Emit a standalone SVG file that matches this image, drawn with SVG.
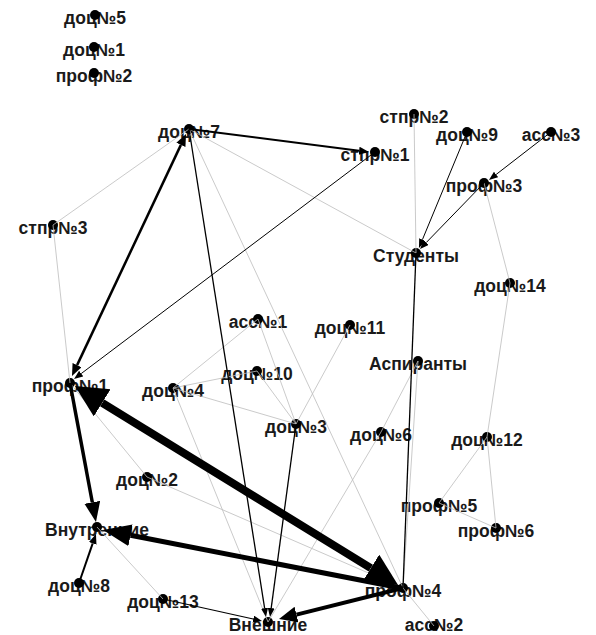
<svg xmlns="http://www.w3.org/2000/svg" width="596" height="635" viewBox="0 0 596 635">
<style>
text{font-family:"Liberation Sans",Arial,sans-serif;font-weight:bold;font-size:17.5px;fill:#1a1a1a;text-anchor:middle}
.d{fill:#000}
.g{stroke:#bdbdbd;stroke-width:0.8;fill:none}
.k{stroke:#000;fill:none}
</style>
<defs>
<marker id="mHuge" markerUnits="userSpaceOnUse" orient="auto-start-reverse" markerWidth="34" markerHeight="34" refX="0" refY="16" viewBox="0 0 34 34"><path d="M0,0 L32,16 L0,32 Z" fill="#000"/></marker>
<marker id="mBig" markerUnits="userSpaceOnUse" orient="auto" markerWidth="30" markerHeight="24" refX="0" refY="11" viewBox="0 0 30 24"><path d="M0,0 L28,11 L0,22 Z" fill="#000"/></marker>
<marker id="mMed" markerUnits="userSpaceOnUse" orient="auto" markerWidth="22" markerHeight="18" refX="0" refY="8" viewBox="0 0 22 18"><path d="M0,0 L20,8 L0,16 Z" fill="#000"/></marker>
<marker id="mWe" markerUnits="userSpaceOnUse" orient="auto" markerWidth="20" markerHeight="18" refX="0" refY="8" viewBox="0 0 20 18"><path d="M0,0 L18,8 L0,16 Z" fill="#000"/></marker>
<marker id="mSm2" markerUnits="userSpaceOnUse" orient="auto-start-reverse" markerWidth="14" markerHeight="12" refX="0" refY="5" viewBox="0 0 14 12"><path d="M0,0 L12,5 L0,10 Z" fill="#000"/></marker>
<marker id="mSm" markerUnits="userSpaceOnUse" orient="auto" markerWidth="12" markerHeight="10" refX="0" refY="4" viewBox="0 0 12 10"><path d="M0,0 L10,4 L0,8 Z" fill="#000"/></marker>
<marker id="mTiny" markerUnits="userSpaceOnUse" orient="auto" markerWidth="10" markerHeight="8" refX="0" refY="3.5" viewBox="0 0 10 8"><path d="M0,0 L9,3.5 L0,7 Z" fill="#000"/></marker>
</defs>
<rect width="596" height="635" fill="#fff"/>

<g id="nodes">
<g id="n-doc5"><text x="95" y="24">доц№5</text><circle class="d" cx="95" cy="15" r="5"/></g>
<g id="n-doc1"><text x="94" y="56">доц№1</text><circle class="d" cx="94" cy="47" r="5"/></g>
<g id="n-prof2"><text x="94" y="82">проф№2</text><circle class="d" cx="94" cy="73" r="5"/></g>
<g id="n-doc7"><text x="189" y="138">доц№7</text><circle class="d" cx="189" cy="129" r="5"/></g>
<g id="n-stpr1"><text x="375" y="161">стпр№1</text><circle class="d" cx="375" cy="152" r="5"/></g>
<g id="n-stpr2"><text x="414" y="123">стпр№2</text><circle class="d" cx="414" cy="114" r="5"/></g>
<g id="n-doc9"><text x="467" y="141">доц№9</text><circle class="d" cx="467" cy="132" r="5"/></g>
<g id="n-ass3"><text x="551" y="141">асс№3</text><circle class="d" cx="551" cy="132" r="5"/></g>
<g id="n-prof3"><text x="484" y="192">проф№3</text><circle class="d" cx="484" cy="183" r="5"/></g>
<g id="n-stpr3"><text x="53" y="234">стпр№3</text><circle class="d" cx="53" cy="225" r="5"/></g>
<g id="n-students"><text x="416" y="262">Студенты</text><circle class="d" cx="416" cy="253" r="5"/></g>
<g id="n-doc14"><text x="510" y="292">доц№14</text><circle class="d" cx="510" cy="283" r="5"/></g>
<g id="n-ass1"><text x="258" y="328">асс№1</text><circle class="d" cx="258" cy="319" r="5"/></g>
<g id="n-doc11"><text x="350" y="334">доц№11</text><circle class="d" cx="350" cy="325" r="5"/></g>
<g id="n-doc10"><text x="257" y="380">доц№10</text><circle class="d" cx="257" cy="371" r="5"/></g>
<g id="n-doc4"><text x="173" y="397">доц№4</text><circle class="d" cx="173" cy="388" r="5"/></g>
<g id="n-asp"><text x="418" y="370">Аспиранты</text><circle class="d" cx="418" cy="361" r="5"/></g>
<g id="n-prof1"><text x="70" y="392">проф№1</text><circle class="d" cx="70" cy="383" r="5"/></g>
<g id="n-doc3"><text x="296" y="433">доц№3</text><circle class="d" cx="296" cy="424" r="5"/></g>
<g id="n-doc6"><text x="381" y="441">доц№6</text><circle class="d" cx="381" cy="432" r="5"/></g>
<g id="n-doc12"><text x="487" y="446">доц№12</text><circle class="d" cx="487" cy="437" r="5"/></g>
<g id="n-doc2"><text x="147" y="486">доц№2</text><circle class="d" cx="147" cy="477" r="5"/></g>
<g id="n-prof5"><text x="439" y="512">проф№5</text><circle class="d" cx="439" cy="503" r="5"/></g>
<g id="n-prof6"><text x="496" y="537">проф№6</text><circle class="d" cx="496" cy="528" r="5"/></g>
<g id="n-inner"><text x="97" y="536">Внутренние</text><circle class="d" cx="97" cy="527" r="5"/></g>
<g id="n-doc8"><text x="79" y="592">доц№8</text><circle class="d" cx="79" cy="583" r="5"/></g>
<g id="n-doc13"><text x="163" y="608">доц№13</text><circle class="d" cx="163" cy="599" r="5"/></g>
<g id="n-prof4"><text x="403" y="597">проф№4</text><circle class="d" cx="403" cy="588" r="5"/></g>
<g id="n-outer"><text x="268" y="631">Внешние</text><circle class="d" cx="268" cy="622" r="5"/></g>
<g id="n-ass2"><text x="434" y="631">асс№2</text><circle class="d" cx="434" cy="626" r="5"/></g>
</g>

<g id="connectors">
<g id="gray-links">
<line class="g" x1="189" y1="129" x2="53" y2="225"/>
<line class="g" x1="53" y1="225" x2="70" y2="383"/>
<line class="g" x1="189" y1="129" x2="416" y2="253"/>
<line class="g" x1="189" y1="129" x2="403" y2="588"/>
<line class="g" x1="414" y1="114" x2="416" y2="253"/>
<line class="g" x1="484" y1="183" x2="510" y2="283"/>
<line class="g" x1="510" y1="283" x2="487" y2="437"/>
<line class="g" x1="487" y1="437" x2="439" y2="503"/>
<line class="g" x1="487" y1="437" x2="496" y2="528"/>
<line class="g" x1="439" y1="503" x2="496" y2="528"/>
<line class="g" x1="258" y1="319" x2="173" y2="388"/>
<line class="g" x1="258" y1="319" x2="296" y2="424"/>
<line class="g" x1="257" y1="371" x2="173" y2="388"/>
<line class="g" x1="257" y1="371" x2="296" y2="424"/>
<line class="g" x1="173" y1="388" x2="296" y2="424"/>
<line class="g" x1="350" y1="325" x2="296" y2="424"/>
<line class="g" x1="173" y1="388" x2="268" y2="622"/>
<line class="g" x1="70" y1="383" x2="147" y2="477"/>
<line class="g" x1="147" y1="477" x2="403" y2="588"/>
<line class="g" x1="97" y1="527" x2="163" y2="599"/>
<line class="g" x1="418" y1="361" x2="381" y2="432"/>
<line class="g" x1="381" y1="432" x2="268" y2="622"/>
<line class="g" x1="418" y1="361" x2="403" y2="588"/>
<line class="g" x1="403" y1="588" x2="434" y2="626"/>
</g>
<g id="arrows">
<path class="k" d="M416,253 L403,588" stroke-width="1.3"/>
<path class="k" d="M189,129 L264.6,608.1" stroke-width="1.3" marker-end="url(#mTiny)"/>
<path class="k" d="M296,424 L271.2,608.1" stroke-width="1.3" marker-end="url(#mTiny)"/>
<path class="k" d="M163,599 L253.2,619" stroke-width="1.2" marker-end="url(#mTiny)"/>
<path class="k" d="M467,132 L422.4,239.7" stroke-width="1" marker-end="url(#mTiny)"/>
<path class="k" d="M551,132 L496.1,174.5" stroke-width="1" marker-end="url(#mTiny)"/>
<path class="k" d="M484,183 L426.3,242.5" stroke-width="1" marker-end="url(#mTiny)"/>
<path class="k" d="M375,152 L81.2,373.6" stroke-width="1" marker-end="url(#mTiny)"/>
<path class="k" d="M189,129 L359.1,150.7" stroke-width="2" marker-end="url(#mSm)"/>
<path class="k" d="M79,583 L92.7,543.4" stroke-width="2" marker-end="url(#mSm)"/>
<path class="k" d="M77.1,365.1 L180.9,144.9" stroke-width="2.5" marker-start="url(#mSm2)" marker-end="url(#mSm2)"/>
<path class="k" d="M70,383 L92.3,502.3" stroke-width="3.5" marker-end="url(#mMed)"/>
<path class="k" d="M403,588 L296.5,614.6" stroke-width="4" marker-end="url(#mWe)"/>
<path class="k" d="M401,588 L130.5,535.3" stroke-width="5" marker-end="url(#mBig)"/>
<path class="k" d="M370.8,568.2 L102.2,402.8" stroke-width="8" marker-start="url(#mHuge)" marker-end="url(#mHuge)"/>
</g>
</g>
</svg>
